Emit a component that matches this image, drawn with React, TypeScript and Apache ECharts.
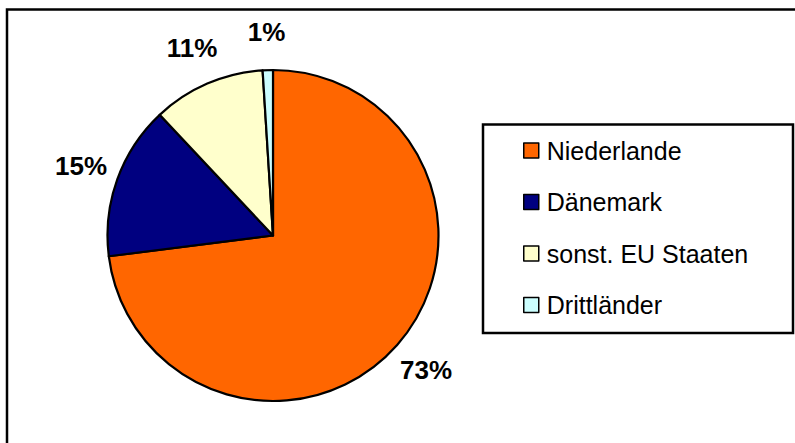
import React, { useEffect, useRef } from "react";
import * as echarts from "echarts";

const categories = ["Niederlande", "Dänemark", "sonst. EU Staaten", "Drittländer"];
const shares = [73, 15, 11, 1];
const colors = ["#FF6600", "#000080", "#FFFFCC", "#CCFFFF"];

const FONT = "'Liberation Sans', Arial, sans-serif";

export default function App() {
  const ref = useRef<HTMLDivElement>(null);
  useEffect(() => {
    if (!ref.current) return;
    const chart = echarts.init(ref.current, undefined, { renderer: "svg" });
    const data = categories.map((name, i) => ({
      name,
      value: shares[i],
      itemStyle: { color: colors[i] },
    }));
    chart.setOption({
      animation: false,
      backgroundColor: "#ffffff",
      graphic: [
        {
          type: "rect",
          shape: { x: 7, y: 9.5, width: 1000, height: 1000 },
          style: { fill: "none", stroke: "#000", lineWidth: 2.5 },
          silent: true,
        },
        {
          type: "rect",
          shape: { x: 483, y: 124.5, width: 310, height: 208.5 },
          style: { fill: "none", stroke: "#000", lineWidth: 2.5 },
          silent: true,
        },
      ],
      legend: {
        data: categories,
        orient: "vertical",
        left: 523,
        top: 135.5,
        padding: 0,
        icon: "rect",
        itemWidth: 15,
        itemHeight: 15,
        itemGap: 21.5,
        itemStyle: { borderColor: "#000", borderWidth: 1.5 },
        textStyle: {
          fontFamily: FONT,
          fontSize: 25,
          color: "#000",
          lineHeight: 30,
          padding: [0, 0, 0, 3],
        },
        selectedMode: false,
      },
      series: [
        {
          type: "pie",
          center: [273, 235.5],
          radius: 165.5,
          startAngle: 90,
          clockwise: true,
          avoidLabelOverlap: false,
          label: { show: false },
          labelLine: { show: false },
          itemStyle: { borderColor: "#000", borderWidth: 2.2 },
          emphasis: { disabled: true },
          data,
        },
        {
          type: "pie",
          center: [273, 235.5],
          radius: [188, 214],
          startAngle: 90,
          clockwise: true,
          silent: true,
          avoidLabelOverlap: false,
          itemStyle: { color: "transparent", borderWidth: 0 },
          label: {
            show: true,
            position: "inside",
            formatter: "{c}%",
            fontFamily: FONT,
            fontSize: 26,
            fontWeight: "bold",
            color: "#000",
          },
          labelLine: { show: false },
          emphasis: { disabled: true },
          data: categories.map((name, i) => ({ name, value: shares[i] })),
        },
      ],
    });
    return () => chart.dispose();
  }, []);
  return (
    <div
      ref={ref}
      style={{ position: "absolute", left: 0, top: 0, width: 795, height: 443 }}
    />
  );
}
